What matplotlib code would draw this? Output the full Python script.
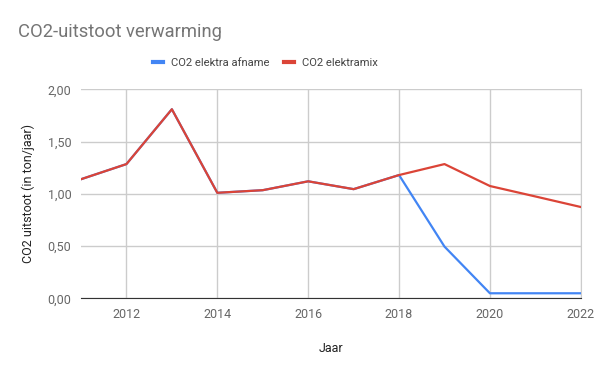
import matplotlib.pyplot as plt
from matplotlib.ticker import FuncFormatter

plt.rcParams['font.family'] = ['Roboto', 'DejaVu Sans']

years = [2011, 2012, 2013, 2014, 2015, 2016, 2017, 2018, 2019, 2020, 2021, 2022]
co2_afname = [1.14, 1.285, 1.81, 1.01, 1.035, 1.12, 1.045, 1.18, 0.495, 0.048, 0.048, 0.048]
co2_mix = [1.14, 1.285, 1.81, 1.01, 1.035, 1.12, 1.045, 1.18, 1.285, 1.075, 0.975, 0.874]

blue = "#4285F4"
red = "#DB4437"

fig = plt.figure(figsize=(6, 3.71), dpi=100)
ax = fig.add_axes([0.135, 0.196, 0.833, 0.563])

ax.plot(years, co2_afname, color=blue, lw=1.6, zorder=3)
ax.plot(years, co2_mix, color=red, lw=1.6, zorder=4)

ax.set_xlim(2011, 2022)
ax.set_ylim(0, 2)
ax.set_xticks(range(2012, 2023, 2))
ax.set_yticks([0, 0.5, 1.0, 1.5, 2.0])
ax.yaxis.set_major_formatter(FuncFormatter(lambda v, p: f"{v:.2f}".replace(".", ",")))

ax.grid(True, color="#cccccc", lw=1)
ax.set_axisbelow(True)
for s in ["top", "left"]:
    ax.spines[s].set_visible(False)
ax.spines["right"].set_color("#cccccc")
ax.spines["bottom"].set_color("#333333")
ax.spines["bottom"].set_zorder(5)
ax.tick_params(length=0, labelsize=9, labelcolor="#666666", pad=7)

ax.set_xlabel("Jaar", fontsize=9, color="#222222", labelpad=15)
ax.set_ylabel("CO2 uitstoot (in ton/jaar)", fontsize=9, color="#222222", labelpad=9)

fig.text(0.03, 0.913, "CO2-uitstoot verwarming", fontsize=13.2, color="#757575", va="center")

leg = fig.legend(handles=[plt.Line2D([], [], color=blue, lw=3), plt.Line2D([], [], color=red, lw=3)],
                 labels=["CO2 elektra afname", "CO2 elektramix"],
                 loc="center left", bbox_to_anchor=(0.255, 0.831), ncol=2, frameon=False,
                 fontsize=8.1, handlelength=0.9, handletextpad=0.7, columnspacing=1.3,
                 borderpad=0, borderaxespad=0)
for t in leg.get_texts():
    t.set_color("#444444")

fig.savefig("out.png", dpi=100)
